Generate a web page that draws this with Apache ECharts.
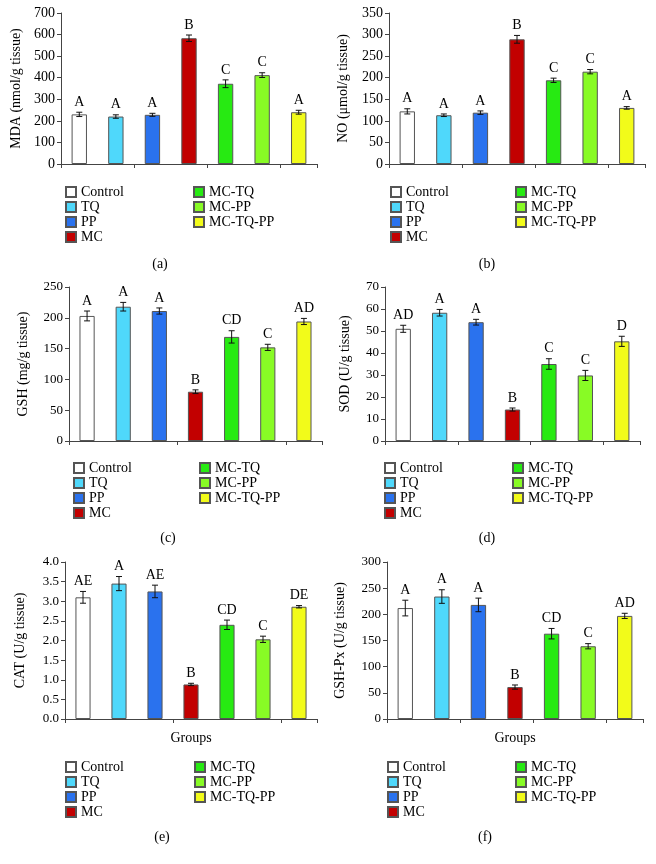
<!DOCTYPE html>
<html>
<head>
<meta charset="utf-8">
<script src="https://cdn.jsdelivr.net/npm/echarts@6/dist/echarts.min.js"></script>
<style>
  html, body { margin: 0; padding: 0; background: #fff; }
  #chart { width: 656px; height: 864px; }
</style>
</head>
<body>
<div id="chart"></div>
<script>
// groups and their colours
var groups = ['Control', 'TQ', 'PP', 'MC', 'MC-TQ', 'MC-PP', 'MC-TQ-PP'];
var groupColors = ['#ffffff', '#4fd8fb', '#2a72ee', '#c20000', '#27ea12', '#88fb25', '#f2fb1a'];

// (a) MDA
var mdaMean = [230, 220, 228, 583, 372, 412, 240];
var mdaErr = [10, 8, 7, 15, 18, 11, 9];
var mdaLetters = ['A', 'A', 'A', 'B', 'C', 'C', 'A'];
// (b) NO
var noMean = [122, 113, 119, 289, 194, 214, 130];
var noErr = [6, 3, 4, 9, 5, 5, 3];
var noLetters = ['A', 'A', 'A', 'B', 'C', 'C', 'A'];
// (c) GSH
var gshMean = [203, 218, 211, 80, 169, 152, 194];
var gshErr = [8, 7, 5, 3, 10, 5, 5];
var gshLetters = ['A', 'A', 'A', 'B', 'CD', 'C', 'AD'];
// (d) SOD
var sodMean = [51, 58.3, 54, 14.3, 35, 29.8, 45.3];
var sodErr = [1.6, 1.5, 1.3, 0.7, 2.4, 2.3, 2.3];
var sodLetters = ['AD', 'A', 'A', 'B', 'C', 'C', 'D'];
// (e) CAT
var catMean = [3.1, 3.45, 3.25, 0.88, 2.4, 2.03, 2.86];
var catErr = [0.15, 0.18, 0.16, 0.03, 0.12, 0.08, 0.03];
var catLetters = ['AE', 'A', 'AE', 'B', 'CD', 'C', 'DE'];
// (f) GSH-Px
var gpxMean = [212, 234, 218, 61, 163, 139, 197];
var gpxErr = [15, 13, 13, 4, 10, 5, 5];
var gpxLetters = ['A', 'A', 'A', 'B', 'CD', 'C', 'AD'];

var font = 'Liberation Serif';

var panels = [
  { tag: '(a)', name: 'MDA (nmol/g tissue)', mean: mdaMean, err: mdaErr, letters: mdaLetters, max: 700, interval: 100, dec: 0,
    grid: { left: 61, top: 13, width: 256, height: 151 }, nameGap: 38, legendTop: 185, legL: 65, legR: 193, capY: 257, capX: 160, groupsName: false },
  { tag: '(b)', name: 'NO (μmol/g tissue)', mean: noMean, err: noErr, letters: noLetters, max: 350, interval: 50, dec: 0,
    grid: { left: 389, top: 13, width: 256, height: 151 }, nameGap: 39, legendTop: 185, legL: 390, legR: 515, capY: 257, capX: 487, groupsName: false },
  { tag: '(c)', name: 'GSH (mg/g tissue)', mean: gshMean, err: gshErr, letters: gshLetters, max: 250, interval: 50, dec: 0,
    grid: { left: 69, top: 287, width: 253, height: 154 }, nameGap: 39, legendTop: 461, legL: 73, legR: 199, capY: 531, capX: 168, groupsName: false },
  { tag: '(d)', name: 'SOD (U/g tissue)', mean: sodMean, err: sodErr, letters: sodLetters, max: 70, interval: 10, dec: 0,
    grid: { left: 385, top: 287, width: 255, height: 154 }, nameGap: 33, legendTop: 461, legL: 384, legR: 512, capY: 531, capX: 487, groupsName: false },
  { tag: '(e)', name: 'CAT (U/g tissue)', mean: catMean, err: catErr, letters: catLetters, max: 4, interval: 0.5, dec: 1,
    grid: { left: 65, top: 562, width: 252, height: 157 }, nameGap: 38, legendTop: 760, legL: 65, legR: 194, capY: 830, capX: 162, groupsName: true },
  { tag: '(f)', name: 'GSH-Px (U/g tissue)', mean: gpxMean, err: gpxErr, letters: gpxLetters, max: 300, interval: 50, dec: 0,
    grid: { left: 387, top: 562, width: 256, height: 157 }, nameGap: 40, legendTop: 760, legL: 387, legR: 515, capY: 830, capX: 485, groupsName: true }
];

var option = {
  animation: false,
  backgroundColor: '#fff',
  textStyle: { fontFamily: font, color: '#000' },
  grid: [], xAxis: [], yAxis: [], legend: [], title: [], series: []
};

panels.forEach(function (p, k) {
  option.grid.push(p.grid);
  option.xAxis.push({
    type: 'category', gridIndex: k, data: groups,
    axisLine: { lineStyle: { color: '#444', width: 1 } },
    axisTick: { show: true, length: 4, lineStyle: { color: '#444' } },
    axisLabel: { show: false },
    name: p.groupsName ? 'Groups' : '', nameLocation: 'middle', nameGap: 12,
    nameTextStyle: { fontFamily: font, fontSize: 14, color: '#000' }
  });
  option.yAxis.push({
    type: 'value', gridIndex: k, min: 0, max: p.max, interval: p.interval,
    name: p.name, nameLocation: 'middle', nameGap: p.nameGap,
    nameTextStyle: { fontFamily: font, fontSize: 14, color: '#000' },
    axisLine: { show: true, lineStyle: { color: '#444', width: 1 } },
    axisTick: { show: true, length: 4, lineStyle: { color: '#444' } },
    axisLabel: { fontFamily: font, fontSize: k < 2 ? 14 : 13, color: '#000', margin: 6,
      formatter: function (v) { return v.toFixed(p.dec); } },
    splitLine: { show: false }
  });
  [groups.slice(0, 4), groups.slice(4)].forEach(function (names, c) {
    option.legend.push({
      orient: 'vertical', left: c === 0 ? p.legL : p.legR, top: p.legendTop, padding: 0,
      itemWidth: 10, itemHeight: 10, itemGap: 1, icon: 'rect', data: names,
      textStyle: { fontFamily: font, fontSize: 14, color: '#000' }
    });
  });
  option.title.push({
    text: p.tag, left: p.capX, top: p.capY, textAlign: 'center', padding: 0,
    textStyle: { fontFamily: font, fontSize: 14, fontWeight: 'normal', color: '#000' }
  });

  groups.forEach(function (g, i) {
    var d = groups.map(function (_, j) { return j === i ? p.mean[j] : '-'; });
    option.series.push({
      type: 'bar', name: g, xAxisIndex: k, yAxisIndex: k, data: d,
      barWidth: '42%', barGap: '-100%',
      itemStyle: { color: groupColors[i], borderColor: '#555', borderWidth: 1 }
    });
  });

  option.series.push({
    type: 'custom', xAxisIndex: k, yAxisIndex: k, z: 10,
    data: p.mean.map(function (m, i) { return [i, m, p.err[i]]; }),
    renderItem: function (params, api) {
      var x = api.value(0), m = api.value(1), e = api.value(2);
      var hi = api.coord([x, m + e]);
      var lo = api.coord([x, m - e]);
      var cap = 3;
      var st = { stroke: '#111', lineWidth: 1 };
      return {
        type: 'group',
        children: [
          { type: 'line', shape: { x1: hi[0], y1: hi[1], x2: lo[0], y2: lo[1] }, style: st },
          { type: 'line', shape: { x1: hi[0] - cap, y1: hi[1], x2: hi[0] + cap, y2: hi[1] }, style: st },
          { type: 'line', shape: { x1: lo[0] - cap, y1: lo[1], x2: lo[0] + cap, y2: lo[1] }, style: st },
          { type: 'text', style: { text: p.letters[params.dataIndex], x: hi[0], y: hi[1] - 3,
              align: 'center', verticalAlign: 'bottom', font: '14px "' + font + '"', fill: '#000' } }
        ]
      };
    }
  });
});

var chart = echarts.init(document.getElementById('chart'));
chart.setOption(option);
</script>
</body>
</html>
